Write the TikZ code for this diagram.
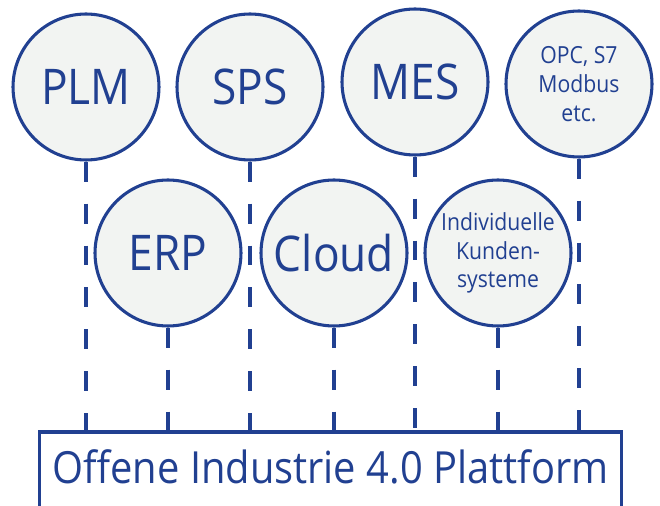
\documentclass[tikz,border=0pt]{standalone}
\usepackage{fontspec}
\setmainfont{Open Sans}
\newfontfamily\platfont[FakeStretch=0.9]{Open Sans}
\definecolor{platblue}{RGB}{33,64,145}
\definecolor{nodegray}{RGB}{242,244,242}
\usetikzlibrary{positioning}

\begin{document}
\begin{tikzpicture}[x=0.02cm, y=-0.02cm,
  sysnode/.style={circle, draw=platblue, fill=nodegray, line width=1.75pt, minimum size=2.92cm, inner sep=0pt, text=platblue, font=\platfont\fontsize{28}{32}\selectfont},
  smallnode/.style={sysnode, align=center, font=\platfont\fontsize{13.4}{16.4}\selectfont},
  platbox/.style={draw=platblue, line width=1.75pt, anchor=north, outer sep=0pt, inner ysep=0pt, minimum width=11.64cm, text height=1.03cm, text depth=1.2cm, text=platblue, font=\platfont\fontsize{25.2}{28}\selectfont},
  link/.style={draw=platblue, line width=1.75pt, dash pattern=on 0.4cm off 0.44cm}
]
  \clip (0,0) rectangle (660,506);

  % Platform
  \node[platbox] (plat) at (330.5,432) {Offene Industrie 4.0 Plattform};

  % Top row
  \node[sysnode] (plm) at (86,87) {PLM};
  \node[sysnode] (sps) at (250,87) {SPS};
  \node[sysnode] (mes) at (415,82) {MES};
  \node[smallnode] (opc) at (579,84) {OPC, S7\\Modbus\\etc.};

  % Bottom row
  \node[sysnode] (erp) at (168,253) {ERP};
  \node[sysnode] (cloud) at (334,253) {Cloud};
  \node[smallnode] (kunden) at (498,253) {Individuelle\\Kunden-\\systeme};

  % Links to the platform
  \foreach \n in {plm, sps, mes, opc, erp, cloud, kunden}
    \draw[link] (\n) -- (\n |- plat.north);
\end{tikzpicture}
\end{document}
